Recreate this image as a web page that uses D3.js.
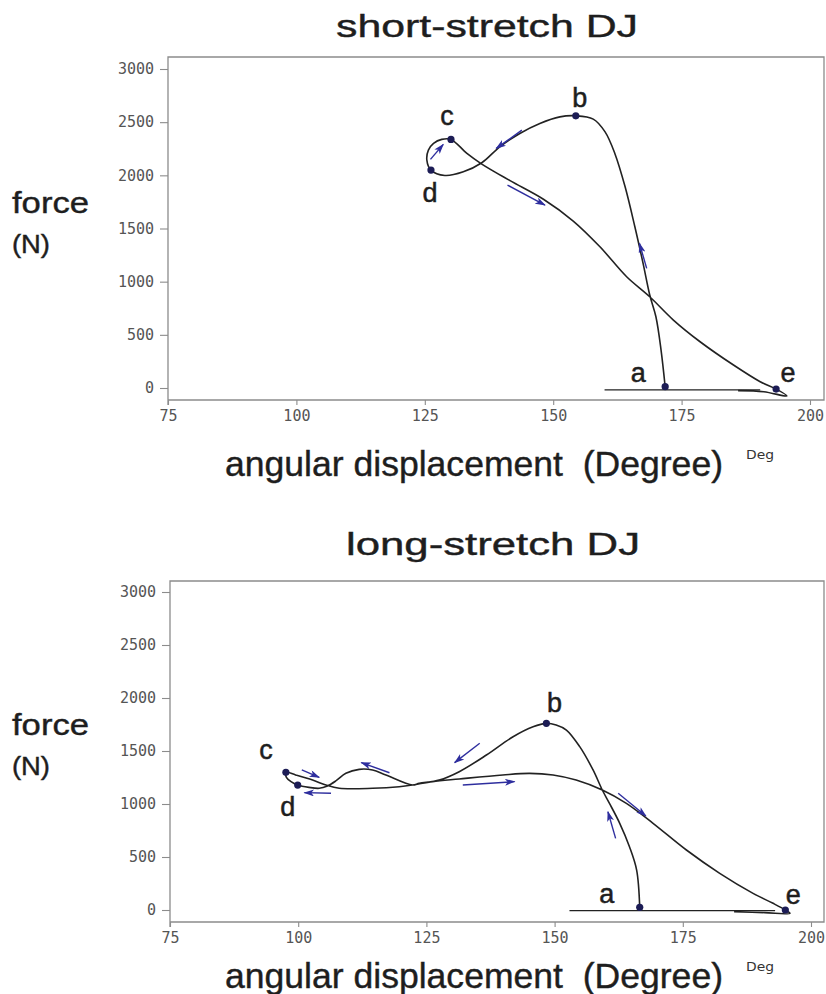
<!DOCTYPE html>
<html lang="en">
<head>
<meta charset="UTF-8">
<title>DJ force - angular displacement</title>
<style>
  body { margin: 0; background: #fff; }
  svg { display: block; }
</style>
</head>
<body>
<svg width="826" height="994"></svg>
<script src="https://cdn.jsdelivr.net/npm/d3@7/dist/d3.min.js"></script>
<script>
// ticks
var xTicks = [75, 100, 125, 150, 175, 200]
var yTicks = [0, 500, 1000, 1500, 2000, 2500, 3000]

// short-stretch DJ, path a -> b -> d -> c -> e (deg, N)
var shortDeg = [171.8, 171.0, 170.0, 168.8, 167.5, 165.9, 164.0, 162.0, 160.1, 157.8, 154.4,
  151.3, 147.4, 143.5, 139.6, 136.1, 132.5, 128.9, 126.2,
  125.4, 125.7, 126.7, 128.3, 130.1,
  133.2, 136.1, 141.6, 148.1, 153.9, 159.1, 164.3, 168.8, 173.4, 178.6, 185.1, 190.3, 193.4, 195.5, 191, 186]
var shortForce = [12, 357, 670, 874, 1172, 1516, 1892, 2206, 2409, 2529, 2560,
  2550, 2488, 2394, 2268, 2118, 2033, 1999, 2049,
  2143, 2237, 2300, 2338, 2338,
  2206, 2106, 1950, 1775, 1570, 1328, 1046, 858, 639, 435, 216, 59, -10, -75, -35, -25]
var shortFlightDeg = [160, 190.3]
var shortFlightForce = [-18, -18]
var shortKeyName = ["a", "b", "c", "d", "e"]
var shortKeyDeg = [171.8, 154.4, 130.1, 126.2, 193.4]
var shortKeyForce = [12, 2560, 2338, 2049, -10]
// direction arrows: [deg from, N from, deg to, N to]
var shortArrows = [[143.9, 2425, 138.9, 2253], [126.1, 2150, 128.6, 2291],
  [141.1, 1908, 148.4, 1720], [168.2, 1125, 166.8, 1360]]

// long-stretch DJ, path a -> b -> d -> c -> e
var longDeg = [166.6, 166.0, 164.6, 162.7, 160.7, 159.3, 157.5, 154.9, 152.3, 150.3, 148.4,
  145.8, 141.9, 136.7, 131.4, 127.5, 123.6, 122.3, 117.1, 114.5, 111.9, 109.3, 107.4, 105.7, 104.1, 102.1, 99.9,
  98.6, 97.7, 97.6,
  99.5, 102.8, 105.4, 108, 114.5, 119.7, 122.3, 126.2, 131.4, 139.9, 145.1, 149.7, 154.2, 159.3, 164, 169.2,
  175.7, 182.2, 188.7, 192.6, 195, 195.9, 191, 185]
var longForce = [25, 377, 597, 818, 1006, 1132, 1321, 1541, 1698, 1745, 1761,
  1729, 1635, 1462, 1305, 1226, 1195, 1179, 1274, 1321, 1327, 1290, 1220, 1170, 1148, 1157, 1179,
  1211, 1252, 1299,
  1274, 1226, 1179, 1148, 1148, 1163, 1179, 1211, 1236, 1274, 1289, 1274, 1226, 1132, 1006, 818,
  566, 346, 157, 63, 0, -31, -25, -15]
var longFlightDeg = [152.9, 193]
var longFlightForce = [-6, -6]
var longKeyName = ["a", "b", "c", "d", "e"]
var longKeyDeg = [166.6, 148.4, 97.6, 99.9, 195]
var longKeyForce = [25, 1761, 1299, 1179, 0]
var longArrows = [[135.4, 1573, 130.5, 1390], [117.8, 1295, 112.3, 1390], [100.7, 1321, 104.1, 1252],
  [106.4, 1101, 101.2, 1107], [132.1, 1179, 142.2, 1211], [162.4, 1101, 167.8, 887], [161.9, 676, 160.4, 927]]

// ---- layout ----
var panels = [{
  title: "short-stretch DJ", titleY: 37, titleX0: 336, titleX1: 638,
  left: 168, right: 824, top: 57, bottom: 400, x200: 810, y0: 388, y3000: 69,
  xLabelY: 476, forceY: 213, nY: 253,
  deg: shortDeg, force: shortForce, flightDeg: shortFlightDeg, flightForce: shortFlightForce,
  keyName: shortKeyName, keyDeg: shortKeyDeg, keyForce: shortKeyForce, arrows: shortArrows,
  labelOff: [[-27, -14], [4, -18], [-4, -23], [-1, 23], [12, -16]]
}, {
  title: "long-stretch DJ", titleY: 555, titleX0: 346, titleX1: 640,
  left: 170, right: 824, top: 581, bottom: 922, x200: 811, y0: 910, y3000: 592,
  xLabelY: 988, forceY: 735, nY: 775,
  deg: longDeg, force: longForce, flightDeg: longFlightDeg, flightForce: longFlightForce,
  keyName: longKeyName, keyDeg: longKeyDeg, keyForce: longKeyForce, arrows: longArrows,
  labelOff: [[-33, -13], [8, -20], [-20, -22], [-10, 22], [8, -15]]
}]

var svg = d3.select("svg")
svg.append("rect").attr("width", 826).attr("height", 994).attr("fill", "#fff")

var blue = "#2e2e9e"
svg.append("defs").append("marker")
  .attr("id", "head")
  .attr("viewBox", "0 0 12 8")
  .attr("refX", 11).attr("refY", 4)
  .attr("markerWidth", 12).attr("markerHeight", 7)
  .attr("markerUnits", "userSpaceOnUse")
  .attr("orient", "auto")
  .append("path")
  .attr("d", "M0,0 L12,4 L0,8 L3,4 z")
  .attr("fill", blue)

var sans = "'Liberation Sans', Arial, Helvetica, sans-serif"

panels.forEach(function (p) {
  var x = d3.scaleLinear().domain([75, 200]).range([p.left, p.x200])
  var y = d3.scaleLinear().domain([0, 3000]).range([p.y0, p.y3000])
  var g = svg.append("g")

  // title
  g.append("text")
    .attr("x", p.titleX0).attr("y", p.titleY)
    .attr("textLength", p.titleX1 - p.titleX0)
    .attr("lengthAdjust", "spacingAndGlyphs")
    .style("font-family", sans).style("font-size", "31px")
    .attr("fill", "#1e1e1e").attr("stroke", "#1e1e1e").attr("stroke-width", 0.4)
    .text(p.title)

  // frame
  g.append("path")
    .attr("d", "M" + p.left + "," + (p.bottom + 5) + "V" + p.top + "H" + p.right + "V" + p.bottom + "H" + p.left)
    .attr("fill", "none").attr("stroke", "#8c8c8c").attr("stroke-width", 1.3)

  // axes
  var xa = g.append("g").attr("transform", "translate(0," + p.bottom + ")")
    .call(d3.axisBottom(x).tickValues(xTicks).tickFormat(d3.format("d")).tickSize(5).tickPadding(5))
  var ya = g.append("g").attr("transform", "translate(" + p.left + ",0)")
    .call(d3.axisLeft(y).tickValues(yTicks).tickFormat(d3.format("d")).tickSize(8).tickPadding(6))
  ;[xa, ya].forEach(function (a) {
    a.select(".domain").remove()
    a.selectAll("line").attr("stroke", "#8c8c8c").attr("stroke-width", 1.1)
    a.selectAll("text").attr("fill", "#555")
      .style("font-family", "'DejaVu Sans Mono', monospace").style("font-size", "15px")
  })

  // axis titles
  g.append("text")
    .attr("x", 225).attr("y", p.xLabelY)
    .attr("textLength", 498).attr("lengthAdjust", "spacingAndGlyphs")
    .style("font-family", sans).style("font-size", "35px")
    .attr("fill", "#1e1e1e").attr("stroke", "#1e1e1e").attr("stroke-width", 0.4)
    .style("white-space", "pre")
    .text("angular displacement  (Degree)")
  g.append("text")
    .attr("x", 746).attr("y", p.xLabelY - 17)
    .attr("textLength", 28).attr("lengthAdjust", "spacingAndGlyphs")
    .style("font-family", "'DejaVu Sans Condensed', 'DejaVu Sans', sans-serif").style("font-size", "13px")
    .attr("fill", "#333")
    .text("Deg")
  g.append("text")
    .attr("x", 12).attr("y", p.forceY)
    .attr("textLength", 77).attr("lengthAdjust", "spacingAndGlyphs")
    .style("font-family", sans).style("font-size", "29px")
    .attr("fill", "#1e1e1e").attr("stroke", "#1e1e1e").attr("stroke-width", 0.4)
    .text("force")
  g.append("text")
    .attr("x", 12).attr("y", p.nY)
    .attr("textLength", 38).attr("lengthAdjust", "spacingAndGlyphs")
    .style("font-family", sans).style("font-size", "25px")
    .attr("fill", "#1e1e1e").attr("stroke", "#1e1e1e").attr("stroke-width", 0.4)
    .text("(N)")

  // curves
  var mainLine = d3.line()
    .x(function (i) { return x(p.deg[i]) })
    .y(function (i) { return y(p.force[i]) })
    .curve(d3.curveCatmullRom.alpha(0.5))
  var flightLine = d3.line()
    .x(function (i) { return x(p.flightDeg[i]) })
    .y(function (i) { return y(p.flightForce[i]) })

  g.append("path")
    .attr("d", flightLine(d3.range(p.flightDeg.length)))
    .attr("fill", "none").attr("stroke", "#222").attr("stroke-width", 1.4)
  g.append("path")
    .attr("d", mainLine(d3.range(p.deg.length)))
    .attr("fill", "none").attr("stroke", "#222").attr("stroke-width", 1.6)

  // arrows
  g.selectAll(".arrow").data(p.arrows).enter().append("line")
    .attr("x1", function (d) { return x(d[0]) })
    .attr("y1", function (d) { return y(d[1]) })
    .attr("x2", function (d) { return x(d[2]) })
    .attr("y2", function (d) { return y(d[3]) })
    .attr("stroke", blue).attr("stroke-width", 1.4)
    .attr("marker-end", "url(#head)")

  // key points
  var keys = d3.range(p.keyName.length)
  g.selectAll(".dot").data(keys).enter().append("circle")
    .attr("cx", function (i) { return x(p.keyDeg[i]) })
    .attr("cy", function (i) { return y(p.keyForce[i]) })
    .attr("r", 3.6)
    .attr("fill", "#1c1c55")
  g.selectAll(".key").data(keys).enter().append("text")
    .attr("x", function (i) { return x(p.keyDeg[i]) + p.labelOff[i][0] })
    .attr("y", function (i) { return y(p.keyForce[i]) + p.labelOff[i][1] })
    .attr("text-anchor", "middle")
    .attr("dominant-baseline", "central")
    .style("font-family", sans).style("font-size", "27px")
    .attr("fill", "#1e1e1e").attr("stroke", "#1e1e1e").attr("stroke-width", 0.5)
    .text(function (i) { return p.keyName[i] })
})
</script>
</body>
</html>
